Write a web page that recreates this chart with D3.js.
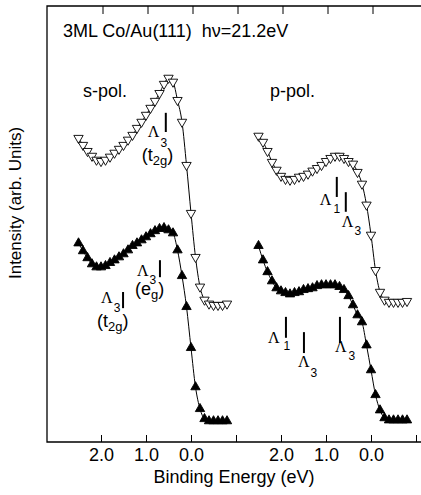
<!DOCTYPE html>
<html>
<head>
<meta charset="utf-8">
<script src="https://cdn.jsdelivr.net/npm/d3@7"></script>
<style>
body { margin: 0; background: #fff; }
svg { display: block; font-family: "Liberation Sans", Arial, sans-serif; }
</style>
</head>
<body>
<svg id="chart" width="421" height="495"></svg>
<script>
// binding energy (eV) of every data point, same grid for all four spectra
var energies = [2.5, 2.4, 2.3, 2.2, 2.1, 2.0, 1.9, 1.8, 1.7, 1.6, 1.5, 1.4, 1.3, 1.2, 1.1, 1.0, 0.9,
    0.8, 0.7, 0.6, 0.5, 0.4, 0.3, 0.2, 0.1, 0.0, -0.1, -0.2, -0.3, -0.4, -0.5, -0.6, -0.7, -0.8]

// intensities, arb. units (offset spectra)
var sPolOpen = [69.7, 68.1, 66.7, 65.6, 64.7, 64.4, 64.7, 65.4, 66.3, 67.2, 68.1, 69.3, 70.4, 72.0, 73.4,
    75.0, 76.6, 78.2, 80.0, 82.1, 83.5, 82.6, 78.4, 73.4, 63.5, 52.5, 42.4, 35.6, 32.6, 31.7, 31.4, 31.4, 31.4, 31.7]
var sPolFilled = [45.6, 43.8, 42.2, 40.8, 40.1, 40.1, 40.4, 41.1, 41.7, 42.4, 43.1, 44.0, 45.0, 45.6, 46.3,
    47.0, 47.7, 48.4, 48.9, 49.1, 48.6, 47.9, 44.0, 38.1, 31.0, 21.6, 12.6, 7.6, 5.3, 4.8, 4.8, 4.8, 4.8, 4.8]
var pPolOpen = [70.2, 68.8, 66.7, 64.2, 62.4, 61.0, 60.3, 60.1, 60.3, 60.8, 61.0, 61.5, 62.2, 62.8, 63.5,
    64.4, 65.1, 65.6, 65.6, 65.1, 64.4, 63.8, 61.9, 59.2, 54.4, 47.5, 39.4, 34.4, 32.6, 32.1, 32.1, 32.1, 32.1, 32.3]
var pPolFilled = [45.0, 41.7, 39.0, 36.9, 35.3, 34.6, 34.2, 33.9, 34.2, 34.4, 34.9, 35.1, 35.3, 35.8, 36.0,
    36.0, 36.0, 36.0, 35.6, 34.9, 33.5, 31.4, 29.1, 27.5, 22.2, 16.5, 10.8, 7.3, 5.5, 5.0, 5.0, 5.0, 5.0, 5.0]

var bottomTicks = [2, 1, 0, -1]
var topTicksS = [2, 1, 0, -1]
var topTicksP = [2, 1, 0]

// band markers: panel, energy, bar top / bottom intensity, labels
var annotations = [
    {panel: "s", be: 0.56, top: 75.5, bottom: 71.1, sub: "3", paren: "t", parenSub: "2g"},
    {panel: "s", be: 0.69, top: 41.7, bottom: 37.8, sub: "3", paren: "e", parenSub: "g"},
    {panel: "s", be: 1.51, top: 34.4, bottom: 30.7, sub: "3", paren: "t", parenSub: "2g"},
    {panel: "p", be: 0.76, top: 60.8, bottom: 56.2, sub: "1"},
    {panel: "p", be: 0.56, top: 57.3, bottom: 52.8, sub: "3"},
    {panel: "p", be: 1.89, top: 28.7, bottom: 23.9, sub: "1"},
    {panel: "p", be: 1.49, top: 25.2, bottom: 20.4, sub: "3"},
    {panel: "p", be: 0.69, top: 28.7, bottom: 22.7, sub: "3"}
]
// label placement relative to the bar foot: [lambda dx, lambda dy, sub dx, sub dy, paren dx, paren dy]
var labelOffsets = [
    [-18, 5, 1, 10, -24, 29],
    [-23, -1, 1, 8, -25, 18],
    [-22, -5, 1, 9, -26, 19],
    [-17, 8, 2, 8],
    [-4, 15, 1, 8],
    [-18, 5, 4, 7],
    [-6, 14, 1, 10],
    [-5, 9, 2, 8]
]

var frameLeft = 47, frameRight = 421, frameTop = 6, frameBottom = 442
var svg = d3.select("#chart")

var y = d3.scaleLinear().domain([0, 100]).range([frameBottom, frameTop])
var xs = d3.scaleLinear().domain([2, 0]).range([101, 191])
var xp = d3.scaleLinear().domain([2, 0]).range([281, 371])

// frame: left, top and bottom lines only
svg.append("path")
    .attr("d", `M${frameRight},${frameTop}H${frameLeft}V${frameBottom}H${frameRight}`)
    .attr("fill", "none").attr("stroke", "#000").attr("stroke-width", 1.3)

function addAxes (scale, topVals) {
    svg.append("g")
        .attr("transform", `translate(0,${frameBottom})`)
        .call(d3.axisBottom(scale).tickValues(bottomTicks).tickSizeInner(-7).tickSizeOuter(0)
            .tickPadding(6).tickFormat(d => d >= 0 ? d.toFixed(1) : ""))
        .call(g => g.select(".domain").remove())
        .call(g => g.selectAll("text").attr("font-size", 18).attr("font-family", "Liberation Sans, Arial, sans-serif"))
    svg.append("g")
        .attr("transform", `translate(1.5,${frameTop})`)
        .call(d3.axisTop(scale).tickValues(topVals).tickSizeInner(-8).tickSizeOuter(0).tickFormat(""))
        .call(g => g.select(".domain").remove())
}
addAxes(xs, topTicksS)
addAxes(xp, topTicksP)

function drawSeries (scale, values, filled) {
    var pts = energies.map((e, i) => [scale(e), y(values[i])])
    svg.append("path")
        .attr("d", d3.line().curve(d3.curveMonotoneX)(pts))
        .attr("fill", "none").attr("stroke", "#000").attr("stroke-width", 1)
    svg.append("g").selectAll("path")
        .data(pts)
        .join("path")
        .attr("transform", d => `translate(${d[0]},${d[1]}) rotate(${filled ? 0 : 180})`)
        .attr("d", d3.symbol(d3.symbolTriangle, 38)())
        .attr("fill", filled ? "#000" : "#fff")
        .attr("stroke", "#000").attr("stroke-width", 0.9)
}
drawSeries(xs, sPolOpen, false)
drawSeries(xs, sPolFilled, true)
drawSeries(xp, pPolOpen, false)
drawSeries(xp, pPolFilled, true)

annotations.forEach((a, i) => {
    var off = labelOffsets[i]
    var x = (a.panel == "s" ? xs : xp)(a.be)
    var yb = y(a.bottom)
    svg.append("line")
        .attr("x1", x).attr("x2", x).attr("y1", y(a.top)).attr("y2", yb)
        .attr("stroke", "#000").attr("stroke-width", 2)
    var t = svg.append("text").attr("x", x + off[0]).attr("y", yb + off[1])
    t.append("tspan").attr("font-family", "Liberation Serif, Times New Roman, serif").attr("font-size", 16).text("Λ")
    t.append("tspan").attr("font-size", 12).attr("dx", off[2]).attr("dy", off[3]).text(a.sub)
    if (a.paren) {
        var p = svg.append("text").attr("x", x + off[4]).attr("y", yb + off[5]).attr("font-size", 18)
        p.append("tspan").text("(" + a.paren)
        p.append("tspan").attr("font-size", 13).attr("dy", 4).text(a.parenSub)
        p.append("tspan").attr("dy", -4).text(")")
    }
})

// texts
svg.append("text").attr("x", 63).attr("y", 37).attr("font-size", 18)
    .style("white-space", "pre").text("3ML Co/Au(111)  hν=21.2eV")
svg.append("text").attr("x", 83).attr("y", 97).attr("font-size", 18).text("s-pol.")
svg.append("text").attr("x", 270).attr("y", 97).attr("font-size", 18).text("p-pol.")
svg.append("text").attr("x", 234).attr("y", 483).attr("font-size", 18).attr("text-anchor", "middle")
    .text("Binding Energy (eV)")
svg.append("text").attr("transform", "translate(21,203) rotate(-90)").attr("font-size", 17)
    .attr("text-anchor", "middle").text("Intensity (arb. Units)")
</script>
</body>
</html>
